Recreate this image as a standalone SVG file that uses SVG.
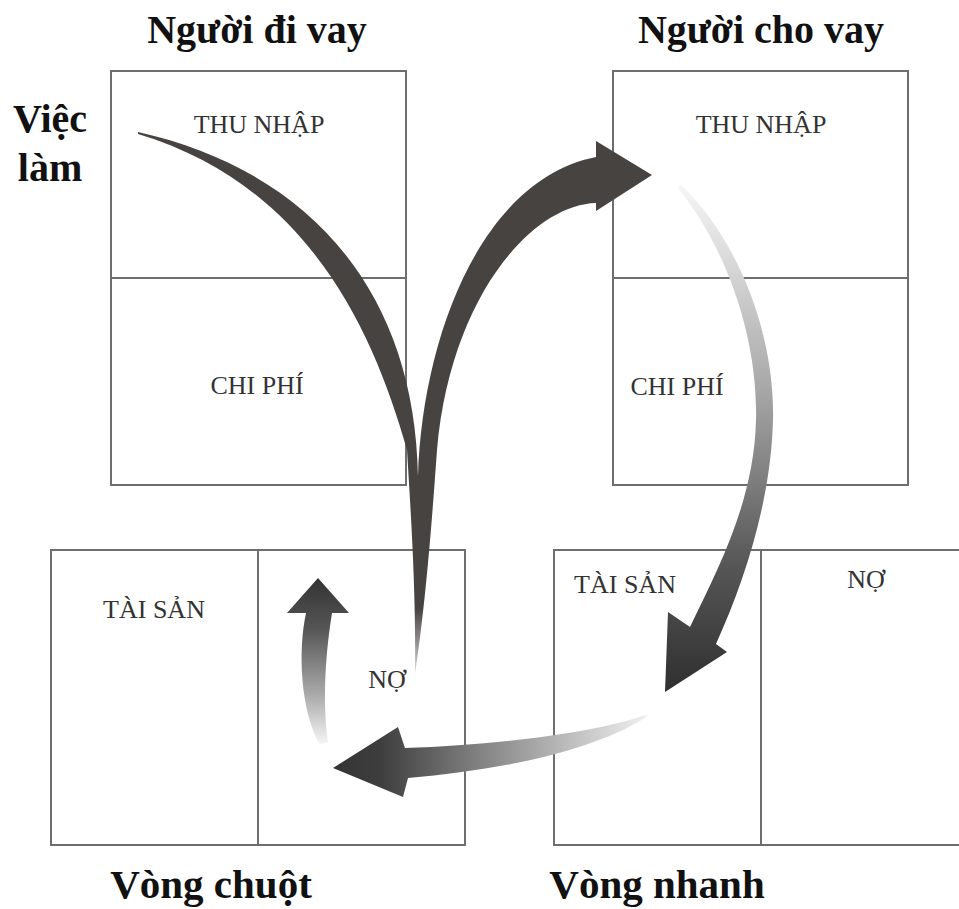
<svg xmlns="http://www.w3.org/2000/svg" width="959" height="909" viewBox="0 0 959 909">
<style>
.box{fill:none;stroke:#6e6e6e;stroke-width:2}
.lbl{font-family:"Liberation Serif","Times New Roman",serif;font-size:26px;fill:#333;text-anchor:middle}
.ttl{font-family:"Liberation Serif","Times New Roman",serif;font-size:40px;font-weight:bold;fill:#111;text-anchor:middle}
</style>
<defs>
<linearGradient id="gV" gradientUnits="userSpaceOnUse" x1="0" y1="128" x2="0" y2="674">
<stop offset="0" stop-color="#474341"/>
<stop offset="0.88" stop-color="#474341"/>
<stop offset="1" stop-color="#d8d8d8"/>
</linearGradient>
<linearGradient id="gDown" gradientUnits="userSpaceOnUse" x1="0" y1="185" x2="0" y2="692">
<stop offset="0" stop-color="#f6f6f6"/>
<stop offset="0.4" stop-color="#a8a8a8"/>
<stop offset="0.75" stop-color="#565656"/>
<stop offset="1" stop-color="#2f2f2f"/>
</linearGradient>
<linearGradient id="gLeft" gradientUnits="userSpaceOnUse" x1="650" y1="0" x2="333" y2="0">
<stop offset="0" stop-color="#f2f2f2"/>
<stop offset="0.5" stop-color="#8a8a8a"/>
<stop offset="0.85" stop-color="#3e3e3e"/>
<stop offset="1" stop-color="#333"/>
</linearGradient>
<linearGradient id="gUp" gradientUnits="userSpaceOnUse" x1="0" y1="578" x2="0" y2="746">
<stop offset="0" stop-color="#333"/>
<stop offset="0.3" stop-color="#555"/>
<stop offset="0.7" stop-color="#ababab"/>
<stop offset="1" stop-color="#f8f8f8"/>
</linearGradient>
</defs>
<rect width="959" height="909" fill="#fff"/>

<g id="title-borrower"><text class="ttl" x="257" y="43">Người đi vay</text></g>
<g id="title-lender"><text class="ttl" x="761" y="43">Người cho vay</text></g>
<g id="title-job"><text class="ttl" x="50" y="132">Việc</text><text class="ttl" x="50" y="181">làm</text></g>
<g id="title-rat"><text class="ttl" x="211" y="898" style="font-size:41px">Vòng chuột</text></g>
<g id="title-fast"><text class="ttl" x="657" y="898" style="font-size:41px">Vòng nhanh</text></g>

<g id="borrower-income-statement">
<rect class="box" x="111" y="71" width="295" height="414"/>
<line class="box" x1="111" y1="278" x2="406" y2="278"/>
<text class="lbl" x="259" y="133">THU NHẬP</text>
<text class="lbl" x="257" y="394">CHI PHÍ</text>
</g>
<g id="lender-income-statement">
<rect class="box" x="613" y="71" width="295" height="414"/>
<line class="box" x1="613" y1="278" x2="908" y2="278"/>
<text class="lbl" x="761" y="133">THU NHẬP</text>
<text class="lbl" x="677" y="395">CHI PHÍ</text>
</g>
<g id="borrower-balance-sheet">
<rect class="box" x="51" y="550" width="414" height="295"/>
<line class="box" x1="258" y1="550" x2="258" y2="845"/>
<text class="lbl" x="154" y="618">TÀI SẢN</text>
<text class="lbl" x="387" y="688">NỢ</text>
</g>
<g id="lender-balance-sheet">
<rect class="box" x="554" y="550" width="420" height="295"/>
<line class="box" x1="761" y1="550" x2="761" y2="845"/>
<text class="lbl" x="625" y="593">TÀI SẢN</text>
<text class="lbl" x="866" y="588">NỢ</text>
</g>

<g id="connectors">
<path fill="url(#gV)" d="M138,132 C308,170 415,290 418,477 C422,340 480,180 596,157 L596,141 L652,175 L596,211 L596,203 C530,205 450,300 437,450 C432,520 426,600 415,674 C416,600 412,530 407,450 C373,330 308,185 138,134 Z"/>
<path fill="url(#gDown)" d="M680,184 C735,235 775,330 773,420 C771,500 745,580 716,644 L727,652 L665,692 L668,612 L690,627 C720,565 754,500 756,420 C758,340 728,250 678,188 Z"/>
<path fill="url(#gLeft)" d="M648,714 C600,732 500,745 405,748 L398,727 L333,768 L403,797 L408,778 C500,770 590,752 645,718 Z"/>
<path fill="url(#gUp)" d="M320,745 C300,710 298,650 306,613 L287,613 L318,578 L349,613 L332,613 C326,650 322,700 328,742 Z"/>
</g>
</svg>
